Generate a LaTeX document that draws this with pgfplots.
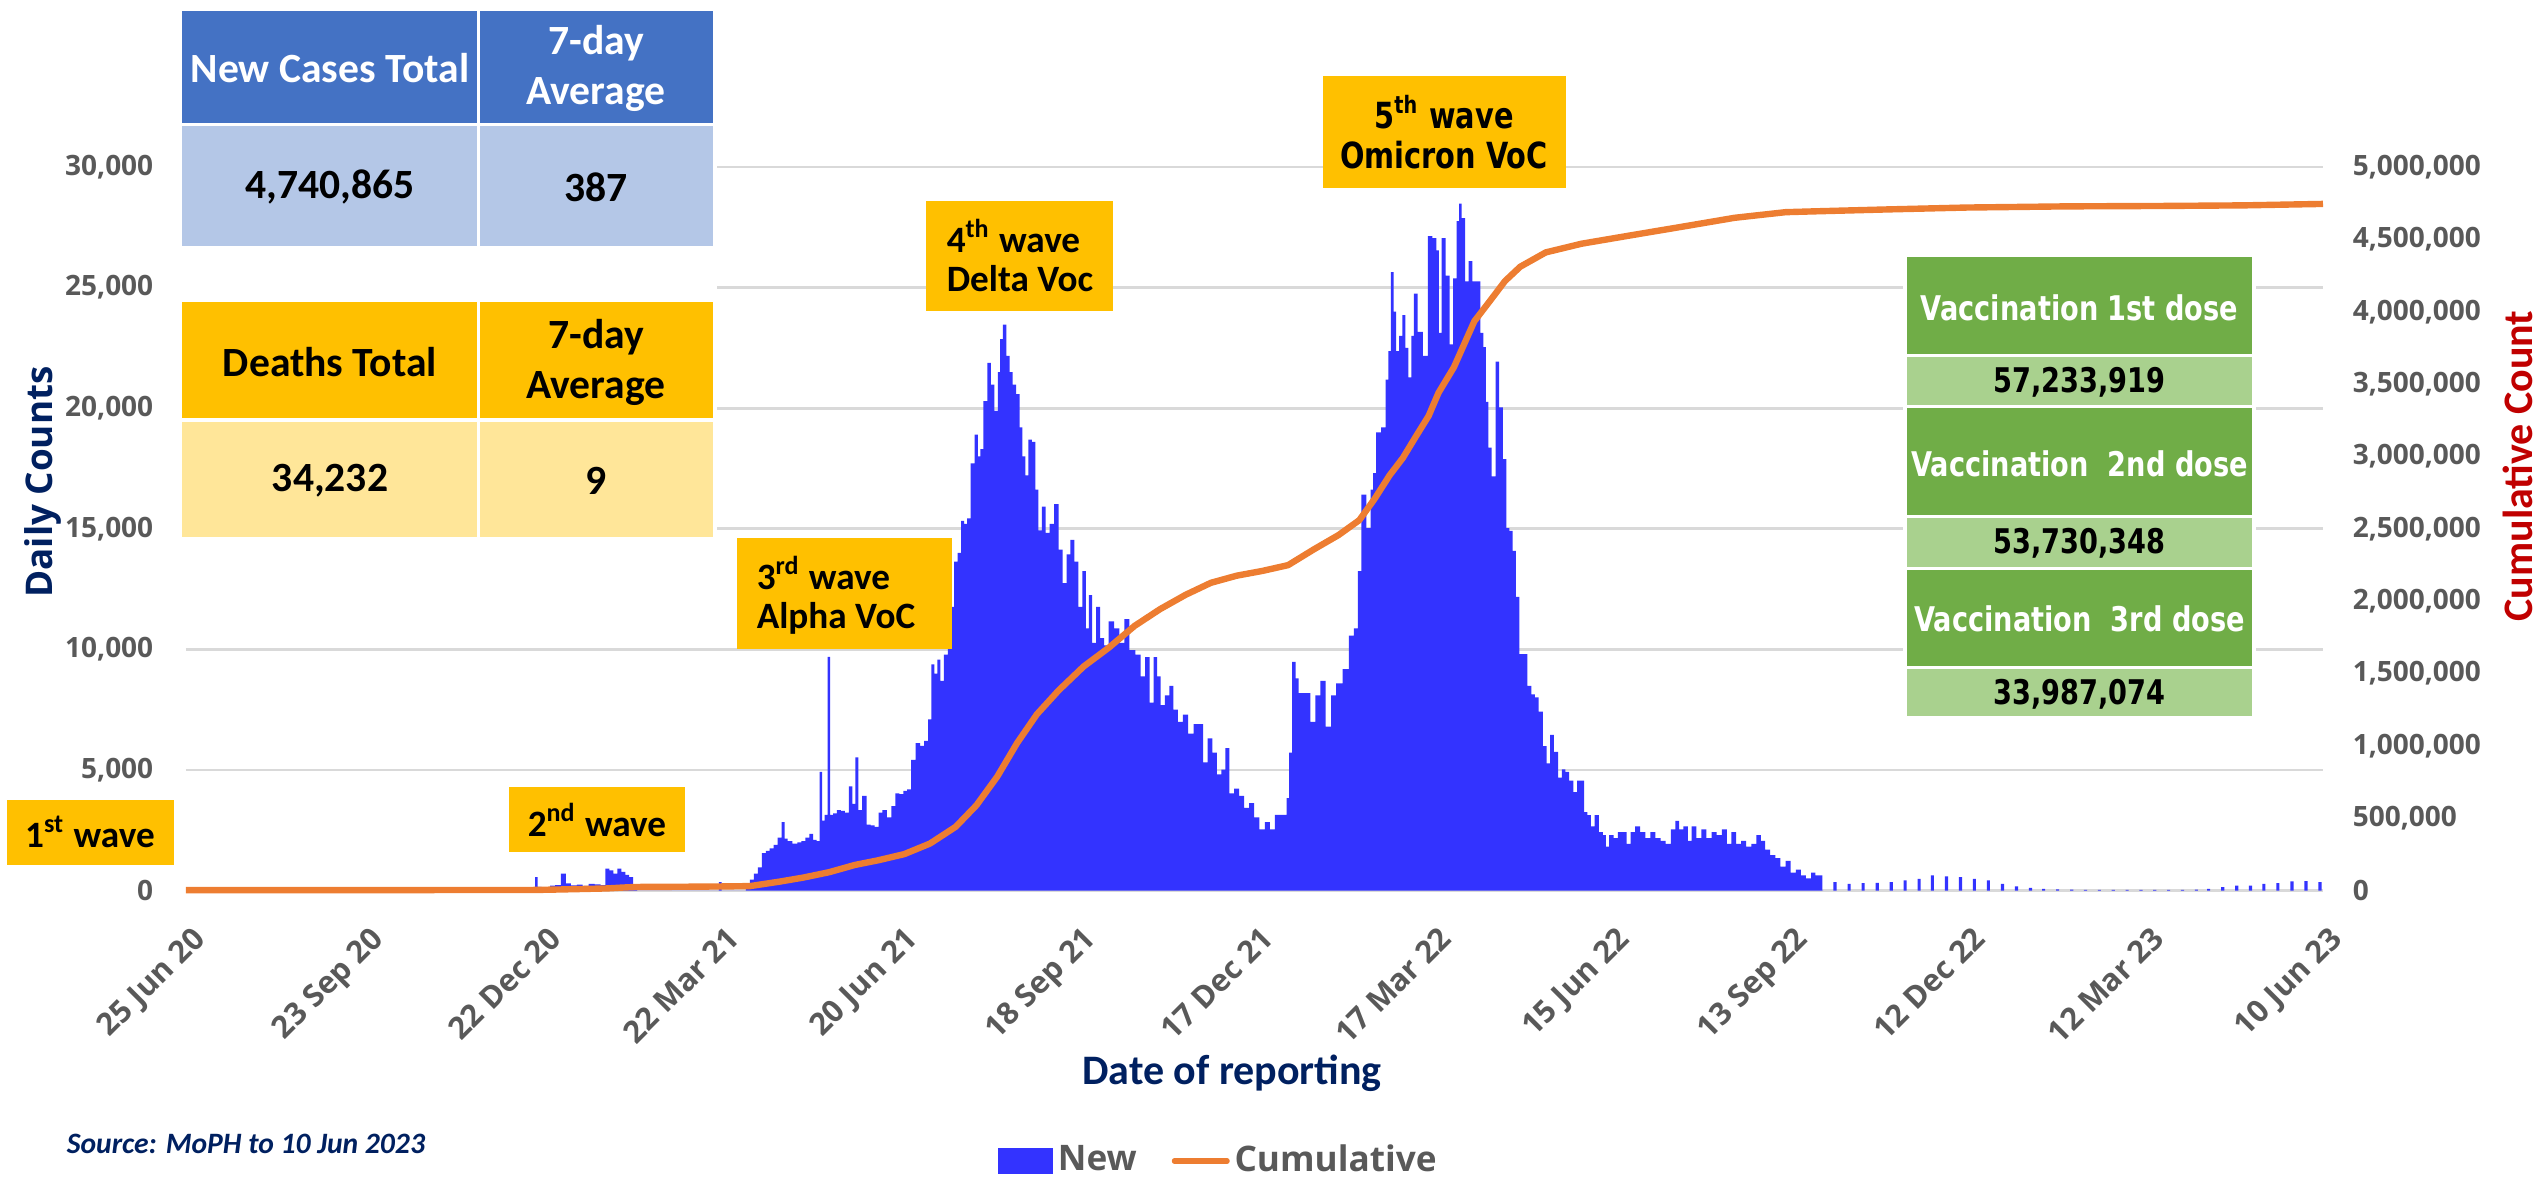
\documentclass[border=0pt]{standalone}
\usepackage{fontspec}
\setmainfont{Carlito}
\newfontfamily\vfont[FakeStretch=0.8]{DejaVu Sans}
\newfontfamily\ofont{Open Sans}
\usepackage{pgfplots}
\pgfplotsset{compat=1.18}

\definecolor{newblue}{RGB}{51,51,255}
\definecolor{cumorange}{RGB}{237,125,49}
\definecolor{gridgrey}{RGB}{217,217,217}
\definecolor{tickgrey}{RGB}{89,89,89}
\definecolor{navy}{RGB}{0,32,96}
\definecolor{darkred}{RGB}{192,0,0}
\definecolor{hdrblue}{RGB}{68,114,196}
\definecolor{valblue}{RGB}{180,199,231}
\definecolor{hdrorange}{RGB}{255,192,0}
\definecolor{valyellow}{RGB}{255,230,153}
\definecolor{vgreen}{RGB}{112,173,71}
\definecolor{vlight}{RGB}{169,209,142}

\newcommand\ytickfont{\ofont\bfseries\fontsize{7}{8.5}\selectfont}
\newcommand\xtickfont{\ofont\bfseries\fontsize{7.7}{9}\selectfont}
\newcommand\rtickfont{\ofont\bfseries\fontsize{7}{8.5}\selectfont}
\newcommand\alabfont{\bfseries\fontsize{10.5}{12}\selectfont}
\newcommand\dlabfont{\ofont\bfseries\fontsize{9.2}{11}\selectfont}
\newcommand\tabfont{\bfseries\fontsize{10.4}{12.5}\selectfont}
\newcommand\vacfont{\vfont\bfseries\fontsize{8.5}{10}\selectfont}
\newcommand\wavefont{\bfseries\fontsize{9.3}{11}\selectfont}
\newcommand\omfont{\vfont\bfseries\fontsize{9}{10.5}\selectfont}
\newcommand\srcfont{\bfseries\itshape\fontsize{7.4}{8.5}\selectfont}
\newcommand\legfont{\ofont\bfseries\fontsize{8.8}{10.5}\selectfont}

\begin{document}
\begin{tikzpicture}
\begin{axis}[
  at={(0,0)}, anchor=south west,
  scale only axis, width=534.25pt, height=180.9pt,
  xmin=0, xmax=1080, ymin=0, ymax=30000,
  scaled x ticks=false, scaled y ticks=false,
  axis line style={draw=none}, tick style={draw=none}, major tick style={draw=none},
  xtick={0,90,180,270,360,450,540,630,720,810,900,990,1080},
  xticklabels={25 Jun 20,23 Sep 20,22 Dec 20,22 Mar 21,20 Jun 21,18 Sep 21,17 Dec 21,17 Mar 22,15 Jun 22,13 Sep 22,12 Dec 22,12 Mar 23,10 Jun 23},
  xticklabel style={font=\xtickfont, text=tickgrey, xshift=1.2pt, yshift=-8.3pt, rotate=45, anchor=north east, inner sep=0pt},
  ytick={0,5000,10000,15000,20000,25000,30000},
  yticklabels={0,{5,000},{10,000},{15,000},{20,000},{25,000},{30,000}},
  yticklabel style={font=\ytickfont, text=tickgrey, anchor=east, inner sep=0pt, xshift=-8pt},
  ymajorgrids, grid style={gridgrey, line width=0.7pt},
  xlabel={Date of reporting},
  xlabel style={at={(axis description cs:0.4895,-0.252)}, anchor=center, font=\alabfont, text=navy},
  ylabel={Daily Counts},
  ylabel style={at={(axis description cs:-0.0669,0.5647)}, anchor=center, font=\dlabfont, text=navy},
  no marks,
]
\addplot[const plot mark mid, fill=newblue, draw=none] coordinates {
(176,0) (177,560) (178.5,150) (181,60) (183,0) (185,210) (188,230) (191,700) (193,300) (196,220) (199,250) (202,200) (205,280) (208,260) (211,230) (213,910) (215,840) (217,700) (219,910) (221,780) (223,650) (225,560) (227,210) (229,0) (268.5,0) (270,350) (271.5,0) (282,0) (284,300) (286,450) (288,700) (290,960) (292,1550) (294,1650) (296,1750) (298,1900) (300,2200) (302,2840) (303,2150) (305,2050) (308,1950) (310,2000) (312,2050) (314,2200) (316,2350) (318,2100) (319.5,2050) (321,4920) (322,2900) (323.5,3140) (325,9690) (326,3140) (328,3200) (330,3340) (332,3300) (334,3230) (336,4320) (337.5,3600) (339,5520) (340.5,3340) (343,3930) (345,2740) (347,2700) (349,2640) (351,3230) (353,3340) (355.5,3040) (357.5,3500) (359.5,4030) (361.5,4000) (363.5,4130) (365.5,4200) (367.5,5420) (370,6110) (372,6000) (374,6210) (376,7100) (377.5,9380) (379,9000) (380.5,9580) (382,8690) (384,9780) (386,10500) (387.5,11760) (389,13640) (391,14000) (392.5,15330) (394,15200) (395.5,15430) (397.5,17710) (399.5,18900) (401,18000) (402,18300) (404,20290) (406,21880) (407.5,20980) (409.5,19890) (411,21500) (412,22860) (413.7,23460) (415.5,22170) (417,21500) (418.5,20980) (420.5,20580) (422,19200) (423.5,18000) (425,17210) (426.5,18700) (428.5,18600) (430,16620) (431.5,14930) (433.5,15920) (435.5,14830) (437.5,15200) (440,16020) (442,14140) (444,12750) (446,13940) (448,14540) (450,13640) (452,11760) (454,13250) (455.5,10870) (457,12250) (459,10270) (461,11760) (463,10470) (465,10170) (467.5,11160) (470.5,10870) (473,10270) (475.5,11260) (478,9970) (481.5,9780) (483.5,8880) (486,9680) (488,7790) (490,9680) (491.5,8880) (493.5,7690) (496,8090) (498,8490) (500,7500) (502.5,7000) (505,7300) (508,6510) (510.5,6900) (513,6900) (515,5320) (517.5,6310) (520,5720) (522,4820) (524.5,5020) (526,5910) (528.5,4030) (531,4230) (533.5,3930) (536,3430) (538.5,3630) (541,3040) (544,2540) (546.5,2840) (549,2540) (551.5,3140) (555.5,3140) (557,3830) (558,5720) (560,9480) (561.5,8800) (563,8190) (567,8190) (569.5,7000) (572,8090) (574.5,8690) (577.5,6800) (580,8090) (582.5,8590) (586.5,9180) (589,10570) (591.5,10870) (593,13250) (595,16420) (598,15030) (599.5,16620) (600.5,17310) (602.5,19000) (605.5,19200) (607,21180) (608.3,22370) (609.6,25640) (611,24000) (612.2,22370) (614,23000) (615.5,23860) (617,22500) (618.6,21280) (620,23000) (621.2,24750) (623.8,23160) (626.4,22170) (628.9,27130) (631,27050) (632.8,26540) (633.6,23120) (635.5,27050) (637.7,25500) (639.5,22650) (641.3,25380) (642.9,27760) (643.9,28480) (645.5,27880) (647.3,25260) (649.1,26100) (651.1,25260) (653.2,25260) (655,23120) (656.3,22530) (657.6,20260) (658.9,18360) (660.9,17170) (662.7,21930) (664.5,20030) (666.6,17890) (667.9,15030) (669.7,14910) (671.2,14080) (673,12180) (674.8,9800) (676.9,9800) (679,8490) (680.8,8130) (682.6,8010) (684.7,7420) (686.7,5990) (688.5,5270) (690.3,6460) (692.4,5750) (694.4,4680) (696.2,5030) (698,4920) (700.1,4560) (702.2,4080) (704,4560) (705.8,4560) (707.3,3250) (709.1,3130) (710.9,2660) (713,3130) (715.1,2420) (716.9,2300) (718.2,1820) (720.2,2300) (722.8,2180) (724.6,2420) (727.2,2420) (729,1940) (731.1,2420) (733.6,2660) (736.2,2420) (738.8,2180) (741.4,2420) (743.9,2180) (746.5,2060) (749.1,1940) (751.7,2540) (753.7,2890) (755.5,2540) (758.1,2660) (759.9,2060) (762,2660) (764.6,2180) (767.1,2540) (769.7,2180) (772.3,2420) (774.9,2300) (777.5,2540) (780,1940) (782.1,2420) (784.7,1940) (787.2,2060) (789.8,1820) (792.4,1940) (795,2300) (796.8,2060) (799.4,1700) (801.9,1470) (804.5,1350) (807.1,990) (809.7,1230) (812.3,750) (814.8,870) (817.4,630) (820,510) (822.6,750) (824.4,630) (826.4,630) (827.5,0)
} \closedcycle;
\addplot[ybar, bar width=1.6, fill=newblue, draw=none] coordinates {
(833.4,350) (840.5,280) (847.6,310) (854.7,320) (861.8,350) (868.8,420) (875.9,490) (882.6,630) (889.7,590) (896.8,560) (903.8,490) (910.9,420) (918,280) (925.1,170) (932.2,110) (938.8,70) (945.9,55) (953,40) (960,30) (967,30) (974,25) (981,25) (988,25) (995,25) (1002,30) (1009,30) (1016,40) (1022.2,70) (1029.3,140) (1036.4,210) (1043.4,210) (1050.1,280) (1057.2,310) (1064.3,380) (1071.4,390) (1078.5,350)
};
\end{axis}

\begin{axis}[
  at={(0,0)}, anchor=south west,
  scale only axis, width=534.25pt, height=180.9pt,
  xmin=0, xmax=1080, ymin=0, ymax=5000000,
  hide x axis, axis y line*=right,
  axis line style={draw=none}, tick style={draw=none}, major tick style={draw=none},
  scaled x ticks=false, scaled y ticks=false,
  ytick={0,500000,1000000,1500000,2000000,2500000,3000000,3500000,4000000,4500000,5000000},
  yticklabels={0,{500,000},{1,000,000},{1,500,000},{2,000,000},{2,500,000},{3,000,000},{3,500,000},{4,000,000},{4,500,000},{5,000,000}},
  yticklabel style={font=\rtickfont, text=tickgrey, anchor=west, inner sep=0pt, xshift=7.25pt},
  ylabel={Cumulative Count},
  ylabel style={at={(axis description cs:1.0913,0.5868)}, anchor=center, rotate=0, font=\alabfont, text=darkred},
  clip=false, no marks,
  legend style={at={(axis description cs:0.4825,-0.3737)}, anchor=center, draw=none, fill=none,
    legend columns=2, font=\legfont, text=tickgrey, inner sep=0pt,
    nodes={inner sep=0pt},
    /tikz/every odd column/.append style={column sep=1.2pt},
    /tikz/every even column/.append style={column sep=8.75pt}},
]
\addplot[cumorange, line width=1.6pt, line join=round, forget plot] coordinates {
(0,3200) (60,3600) (120,3700) (170,4200) (177,4500) (190,8000) (200,11000) (213,15000) (220,20500) (227,25000) (250,26500) (270,28500) (285,31000) (300,62000) (312,90000) (325,127000) (338,177000) (350,210000) (363,252000) (376,325000) (389,441000) (399.5,590000) (410,788000) (420,1019000) (430,1218000) (441,1383000) (453.6,1548000) (466.5,1680000) (479.4,1829000) (492.3,1945000) (505.2,2044000) (518,2127000) (531,2176000) (544,2209000) (557,2249000) (570,2358000) (582.5,2457000) (593,2560000) (600.6,2705000) (608.3,2870000) (615,2990000) (621.2,3130000) (628,3280000) (633,3440000) (640.8,3617000) (651.1,3934000) (658.9,4073000) (666.6,4212000) (674.3,4311000) (687.2,4410000) (705.3,4470000) (731.1,4530000) (756.8,4589000) (782.6,4649000) (808.4,4688000) (823.9,4694000) (860,4707000) (900,4720000) (950,4728000) (1000,4731000) (1040,4735000) (1080,4745000)
};
\addlegendimage{legend image code/.code={\fill[newblue] (0pt,-3pt) rectangle (13.5pt,3pt);}}
\addlegendentry{New}
\addlegendimage{legend image code/.code={\draw[cumorange, line width=1.3pt, line cap=round] (0.3pt,0pt) -- (13.5pt,0pt);}}
\addlegendentry{Cumulative}
\end{axis}

\begin{scope}[shift={(-46.5pt,222.65pt)}, x=0.25pt, y=-0.25pt]
  % table 1 and 2
  \fill[white] (178,7) rectangle (717,541);
  \fill[hdrblue] (182,11) rectangle (477,123);
  \fill[hdrblue] (480,11) rectangle (713,123);
  \fill[valblue] (182,126) rectangle (477,246);
  \fill[valblue] (480,126) rectangle (713,246);
  \node[font=\tabfont, text=white] at (330,68) {New Cases Total};
  \node[font=\tabfont, text=white, align=center] at (596,68) {7-day\\Average};
  \node[font=\tabfont] at (330,187) {4,740,865};
  \node[font=\tabfont] at (596,187) {387};
  \fill[hdrorange] (182,302) rectangle (477,418);
  \fill[hdrorange] (480,302) rectangle (713,418);
  \fill[valyellow] (182,422) rectangle (477,537);
  \fill[valyellow] (480,422) rectangle (713,537);
  \node[font=\tabfont] at (330,362) {Deaths Total};
  \node[font=\tabfont, align=center] at (596,362) {7-day\\Average};
  \node[font=\tabfont] at (330,481) {34,232};
  \node[font=\tabfont] at (596,481) {9};
  % vaccination table
  \fill[white] (1903,253) rectangle (2256,720);
  \fill[vgreen] (1907,257) rectangle (2252,354);
  \fill[vlight] (1907,357) rectangle (2252,405);
  \fill[vgreen] (1907,408) rectangle (2252,515);
  \fill[vlight] (1907,518) rectangle (2252,567);
  \fill[vgreen] (1907,570) rectangle (2252,666);
  \fill[vlight] (1907,669) rectangle (2252,716);
  \node[font=\vacfont, text=white] at (2079.5,308) {Vaccination 1st dose};
  \node[font=\vacfont] at (2079.5,382) {57,233,919};
  \node[font=\vacfont, text=white] at (2079.5,464) {Vaccination\ \ 2nd dose};
  \node[font=\vacfont] at (2079.5,543) {53,730,348};
  \node[font=\vacfont, text=white] at (2079.5,619) {Vaccination\ \ 3rd dose};
  \node[font=\vacfont] at (2079.5,694) {33,987,074};
  % wave labels
  \fill[hdrorange] (7,800) rectangle (174,865);
  \node[font=\wavefont] at (90,832) {1\textsuperscript{st} wave};
  \fill[hdrorange] (509,787) rectangle (685,852);
  \node[font=\wavefont] at (597,820) {2\textsuperscript{nd} wave};
  \fill[hdrorange] (737,538) rectangle (952,649);
  \node[font=\wavefont, anchor=west, inner sep=0pt] at (756,573) {3\textsuperscript{rd} wave};
  \node[font=\wavefont, anchor=west, inner sep=0pt] at (756,618) {Alpha VoC};
  \fill[hdrorange] (926,201) rectangle (1113,311);
  \node[font=\wavefont, anchor=west, inner sep=0pt] at (946,236) {4\textsuperscript{th} wave};
  \node[font=\wavefont, anchor=west, inner sep=0pt] at (946,279) {Delta Voc};
  \fill[hdrorange] (1323,76) rectangle (1566,188);
  \node[font=\omfont] at (1444,112) {5\textsuperscript{th} wave};
  \node[font=\omfont] at (1444,155) {Omicron VoC};
  % source
  \node[font=\srcfont, text=navy, anchor=west, inner sep=0pt] at (66,1144) {Source: MoPH to 10 Jun 2023};
\end{scope}

\pgfresetboundingbox
\path[use as bounding box] (-46.5pt,-71.6pt) rectangle (589pt,222.65pt);
\end{tikzpicture}
\end{document}
